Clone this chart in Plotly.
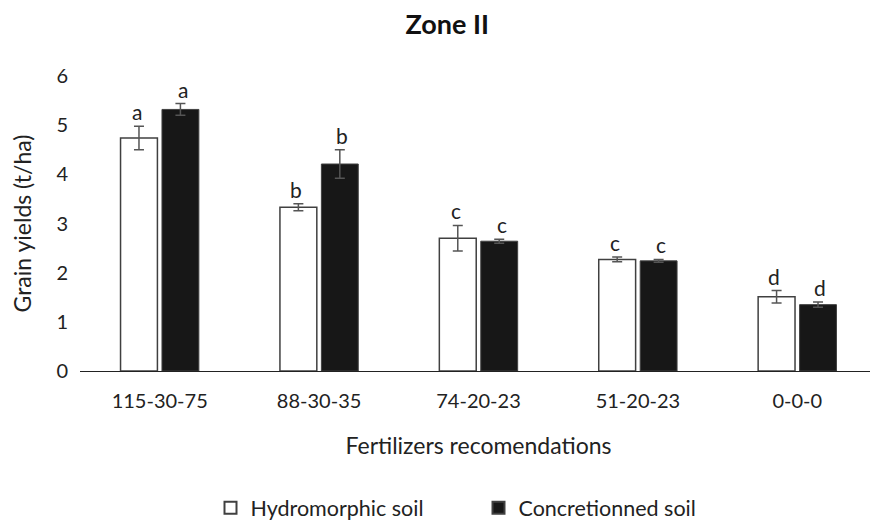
import plotly.graph_objects as go

categories = ["115-30-75", "88-30-35", "74-20-23", "51-20-23", "0-0-0"]
hydro = [4.74, 3.33, 2.70, 2.27, 1.51]
hydro_err = [0.24, 0.07, 0.26, 0.05, 0.125]
hydro_letters = ["a", "b", "c", "c", "d"]
concr = [5.32, 4.21, 2.64, 2.24, 1.35]
concr_err = [0.12, 0.29, 0.04, 0.03, 0.055]
concr_letters = ["a", "b", "c", "c", "d"]

FONT = "Lato, Carlito, Calibri, sans-serif"

fig = go.Figure()
fig.add_trace(go.Bar(
    x=categories, y=hydro, name="Hydromorphic soil",
    marker=dict(color="white", line=dict(color="#404040", width=1.5)),
    error_y=dict(type="data", array=hydro_err, color="#555555", thickness=1.5, width=5),
))
fig.add_trace(go.Bar(
    x=categories, y=concr, name="Concretionned soil",
    marker=dict(color="#171717", line=dict(color="#404040", width=1)),
    error_y=dict(type="data", array=concr_err, color="#555555", thickness=1.5, width=5),
))

annotations = []
for i, c in enumerate(categories):
    annotations.append(dict(x=c, y=hydro[i] + hydro_err[i], text=hydro_letters[i],
                            xref="x", yref="y", xshift=-23, yshift=0, yanchor="bottom",
                            showarrow=False, font=dict(size=21, color="#222", family=FONT)))
    annotations.append(dict(x=c, y=concr[i] + concr_err[i], text=concr_letters[i],
                            xref="x", yref="y", xshift=23, yshift=0, yanchor="bottom",
                            showarrow=False, font=dict(size=21, color="#222", family=FONT)))

fig.update_layout(
    width=870, height=513,
    margin=dict(l=72, r=1, t=68, b=150, autoexpand=False),
    paper_bgcolor="white", plot_bgcolor="white",
    font=dict(family=FONT, color="#222222", size=20),
    title=dict(text="<b>Zone II</b>", x=0.505, xanchor="center", y=0.968, yanchor="middle",
               font=dict(size=27, family=FONT, color="#111")),
    barmode="group", bargap=0.48, bargroupgap=0.11,
    showlegend=True,
    legend=dict(orientation="h", x=0.5, xanchor="center", y=-0.464, yanchor="middle",
                font=dict(size=21.5, family=FONT), itemsizing="constant", traceorder="normal",
                entrywidth=223),
    annotations=annotations,
)
fig.update_xaxes(showline=True, linecolor="#222", linewidth=1.2, ticks="", automargin=False,
                 tickfont=dict(size=20), ticklabelstandoff=12,
                 title=dict(text="Fertilizers recomendations", font=dict(size=23), standoff=26))
fig.update_yaxes(range=[0, 6], dtick=1, showgrid=False, zeroline=False, showline=False,
                 ticks="", tickfont=dict(size=20), ticklabelstandoff=11, automargin=False,
                 title=dict(text="Grain yields (t/ha)", font=dict(size=23), standoff=18))

fig.write_html("out.html")
